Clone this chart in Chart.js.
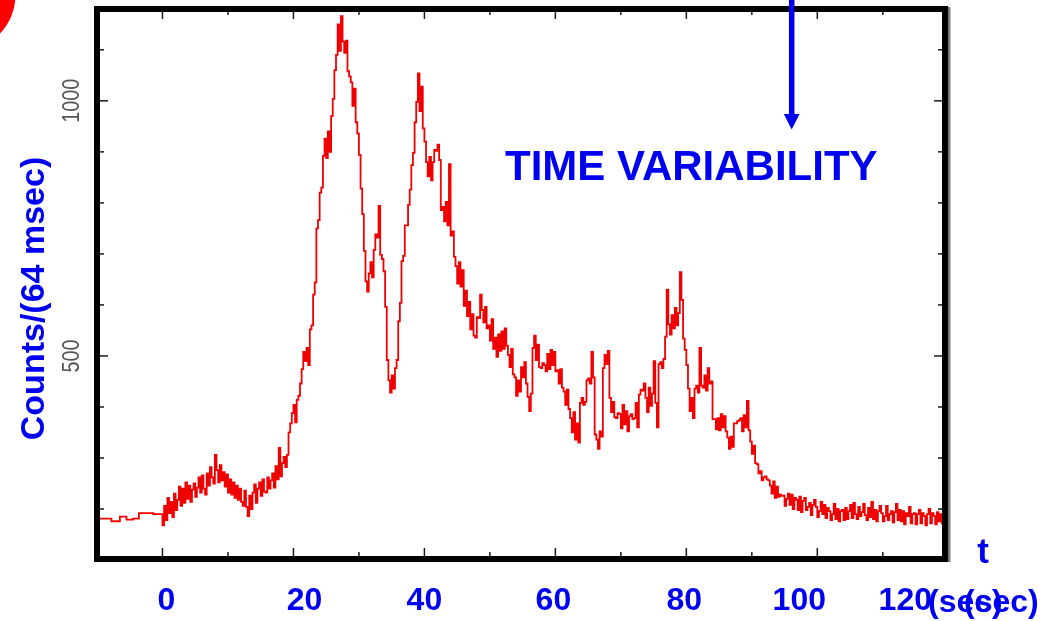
<!DOCTYPE html>
<html>
<head>
<meta charset="utf-8">
<style>
  html, body { margin: 0; padding: 0; background: #ffffff; }
  #wrap { width: 1041px; height: 621px; position: relative; }
  canvas { display: block; }
</style>
<script src="https://cdn.jsdelivr.net/npm/chart.js@4/dist/chart.umd.min.js"></script>
</head>
<body>
<div id="wrap"><canvas id="c" width="1041" height="621"></canvas></div>
<script>
// ---- DATA ----
// pre-trigger background (coarse bins), start time of each bin in seconds
const preTimes  = [-10.1, -7.8, -6.5, -5.5, -4.5, -3.6, -1.4];
const preCounts = [185, 181, 176, 185, 179, 181, 192];

// post-trigger counts, one value per 0.25 s bin starting at t = 0
const binWidth = 0.25;
const counts = [
  190,168,206,178,222,192,214,184,230,198,218,244,206,240,212,252,220,246,214,238,
  250,224,242,262,232,266,240,228,270,246,282,262,250,306,276,252,286,256,272,244,
  268,232,258,228,252,222,246,218,240,214,206,236,204,186,226,200,232,248,212,240,
  252,226,258,234,232,262,240,256,270,242,284,258,320,264,290,302,282,306,350,368,
  388,404,370,414,422,446,474,508,490,516,482,552,560,620,644,750,766,820,830,892,
  926,888,940,900,970,1004,1060,1090,1150,1098,1166,1116,1094,1118,1058,1048,1036,990,1024,958,
  936,894,828,778,706,646,626,662,684,654,708,738,732,794,698,690,666,596,492,452,
  428,462,436,476,492,568,604,686,696,756,756,796,826,874,898,958,998,1054,980,1028,
  946,920,880,852,890,844,880,904,902,914,884,786,792,764,802,756,876,736,744,694,
  676,642,684,636,668,598,628,578,606,552,582,540,536,576,574,620,590,566,596,554,
  560,530,572,514,536,498,542,510,548,514,554,520,502,478,514,464,458,422,452,430,
  478,458,488,446,420,392,426,516,540,492,522,478,476,486,482,470,504,474,512,482,
  508,470,472,446,474,438,430,404,434,396,378,350,390,336,368,330,408,418,404,410,
  452,456,446,508,458,346,336,318,352,342,476,502,484,510,418,390,410,380,378,388,
  386,358,404,366,392,352,382,386,376,378,408,360,424,434,432,446,418,390,438,402,
  426,490,408,360,484,488,476,494,538,630,562,542,580,554,594,560,584,664,610,534,
  512,482,436,392,418,378,436,442,428,516,442,438,462,432,476,446,450,376,376,356,
  378,354,386,360,382,352,340,318,342,322,368,368,372,374,378,352,384,360,412,354,
  332,308,324,290,288,270,274,256,262,264,258,256,246,230,254,222,244,224,228,226,
  226,206,220,230,208,228,200,222,218,198,224,194,216,222,198,204,212,188,208,218,
  204,184,196,214,190,208,182,202,196,178,190,210,180,200,176,196,198,178,202,180,
  196,208,182,212,190,180,204,186,194,210,188,178,202,184,214,180,198,176,196,206,
  192,176,186,206,178,190,196,174,194,210,178,198,176,196,170,192,186,204,172,190,
  192,170,190,198,172,192,186,168,190,200,172,192,186,170,194,176,190,172
];

// axis ticks and labels
const xMajorTicks = [0, 20, 40, 60, 80, 100];
const xMinorTicks = [10, 30, 50, 70, 90, 110];
const xTickLabelValues = [0, 20, 40, 60, 80, 100, 120];
const xTickLabels = ['0', '20', '40', '60', '80', '100', '120'];
const yMajorTicks = [500, 1000];
const yMinorTicks = [200, 300, 400, 600, 700, 800, 900, 1100];
const yTickLabels = ['500', '1000'];

// ---- build points for the library ----
const points = [];
preTimes.forEach((t, i) => points.push({ x: t, y: preCounts[i] }));
counts.forEach((c, i) => points.push({ x: i * binWidth, y: c }));

const BLUE = '#0000f0';
const FONT = "'Liberation Sans', Arial, Helvetica, sans-serif";

const decorPlugin = {
  id: 'decor',
  beforeDraw(chart) {
    const ctx = chart.ctx;
    ctx.save();
    ctx.fillStyle = '#ffffff';
    ctx.fillRect(0, 0, chart.width, chart.height);
    ctx.restore();
  },
  afterDraw(chart, args, opts) {
    const ctx = chart.ctx;
    const a = chart.chartArea;
    const xs = chart.scales.x, ys = chart.scales.y;
    ctx.save();

    // inward ticks on all four sides
    ctx.strokeStyle = '#1a1a1a';
    ctx.lineWidth = 1.5;
    const tick = (x1, y1, x2, y2) => { ctx.beginPath(); ctx.moveTo(x1, y1); ctx.lineTo(x2, y2); ctx.stroke(); };
    const inner = 3;
    xMajorTicks.forEach(v => { const p = xs.getPixelForValue(v); tick(p, a.bottom - inner, p, a.bottom - inner - 8); tick(p, a.top + inner, p, a.top + inner + 7); });
    xMinorTicks.forEach(v => { const p = xs.getPixelForValue(v); tick(p, a.bottom - inner, p, a.bottom - inner - 4); tick(p, a.top + inner, p, a.top + inner + 3); });
    yMajorTicks.forEach(v => { const p = ys.getPixelForValue(v); tick(a.left + inner, p, a.left + inner + 8, p); tick(a.right - inner, p, a.right - inner - 8, p); });
    yMinorTicks.forEach(v => { const p = ys.getPixelForValue(v); tick(a.left + inner, p, a.left + inner + 4, p); tick(a.right - inner, p, a.right - inner - 4, p); });

    // frame
    ctx.strokeStyle = '#000000';
    ctx.lineWidth = 6;
    ctx.strokeRect(a.left, a.top, a.right - a.left, a.bottom - a.top);
    ctx.strokeStyle = '#7a7a7a';
    ctx.lineWidth = 2.5;
    ctx.beginPath(); ctx.moveTo(a.right + 4.2, a.top - 2); ctx.lineTo(a.right + 4.2, a.bottom + 3); ctx.stroke();

    // y tick labels (rotated, thin grey)
    yMajorTicks.forEach((v, i) => {
      const p = ys.getPixelForValue(v);
      ctx.save();
      ctx.translate(71.5, p);
      ctx.rotate(-Math.PI / 2);
      ctx.scale(0.86, 1);
      ctx.fillStyle = '#555555';
      ctx.font = '300 23px ' + FONT;
      ctx.textAlign = 'center';
      ctx.textBaseline = 'middle';
      ctx.fillText(yTickLabels[i], 0, 1);
      ctx.restore();
    });

    // x tick labels (blue, bold, placed like the original text boxes)
    ctx.fillStyle = BLUE;
    ctx.font = 'bold 32px ' + FONT;
    ctx.textAlign = 'center';
    ctx.textBaseline = 'alphabetic';
    xTickLabelValues.forEach((v, i) => {
      const p = xs.getPixelForValue(v) + opts.labelNudge[i];
      ctx.fillText(xTickLabels[i], p, 610);
    });

    // axis title "t (sec)" (the original shows (sec) doubled)
    ctx.font = 'bold 35px ' + FONT;
    ctx.fillText('t', 983, 563);
    ctx.font = 'bold 32px ' + FONT;
    ctx.textAlign = 'left';
    ctx.fillText('(sec)', 928, 612);
    ctx.fillText('(sec)', 964, 612);

    // y axis title
    ctx.save();
    ctx.translate(44, 298.5);
    ctx.rotate(-Math.PI / 2);
    ctx.font = 'bold 34px ' + FONT;
    ctx.textAlign = 'center';
    ctx.textBaseline = 'alphabetic';
    ctx.fillStyle = BLUE;
    ctx.fillText('Counts/(64 msec)', 0, 0);
    ctx.restore();

    // annotation text
    ctx.font = 'bold 42px ' + FONT;
    ctx.textAlign = 'left';
    ctx.fillStyle = BLUE;
    ctx.fillText('TIME VARIABILITY', 505, 180);

    // arrow
    ctx.strokeStyle = BLUE;
    ctx.lineWidth = 5.5;
    ctx.beginPath(); ctx.moveTo(791.7, -2); ctx.lineTo(791.7, 116); ctx.stroke();
    ctx.beginPath();
    ctx.moveTo(783.8, 114); ctx.lineTo(799.6, 114); ctx.lineTo(791.7, 129.5); ctx.closePath();
    ctx.fill();

    // red disc in the top-left corner
    ctx.fillStyle = '#ff0000';
    ctx.beginPath(); ctx.arc(-40, -5, 55.5, 0, Math.PI * 2); ctx.fill();

    ctx.restore();
  }
};

new Chart(document.getElementById('c'), {
  type: 'line',
  data: {
    datasets: [{
      data: points,
      stepped: 'after',
      borderColor: '#f00000',
      borderWidth: 1.8,
      pointRadius: 0,
      fill: false,
      tension: 0
    }]
  },
  options: {
    responsive: false,
    animation: false,
    events: [],
    layout: { padding: { left: 97, right: 96, top: 9, bottom: 62 } },
    plugins: {
      legend: { display: false },
      tooltip: { enabled: false },
      decor: { labelNudge: [4, 11, 0, -2, -2, -18, -43] }
    },
    scales: {
      x: { type: 'linear', min: -10, max: 119.5, display: false },
      y: { type: 'linear', min: 102, max: 1180, display: false }
    }
  },
  plugins: [decorPlugin]
});
</script>
</body>
</html>
